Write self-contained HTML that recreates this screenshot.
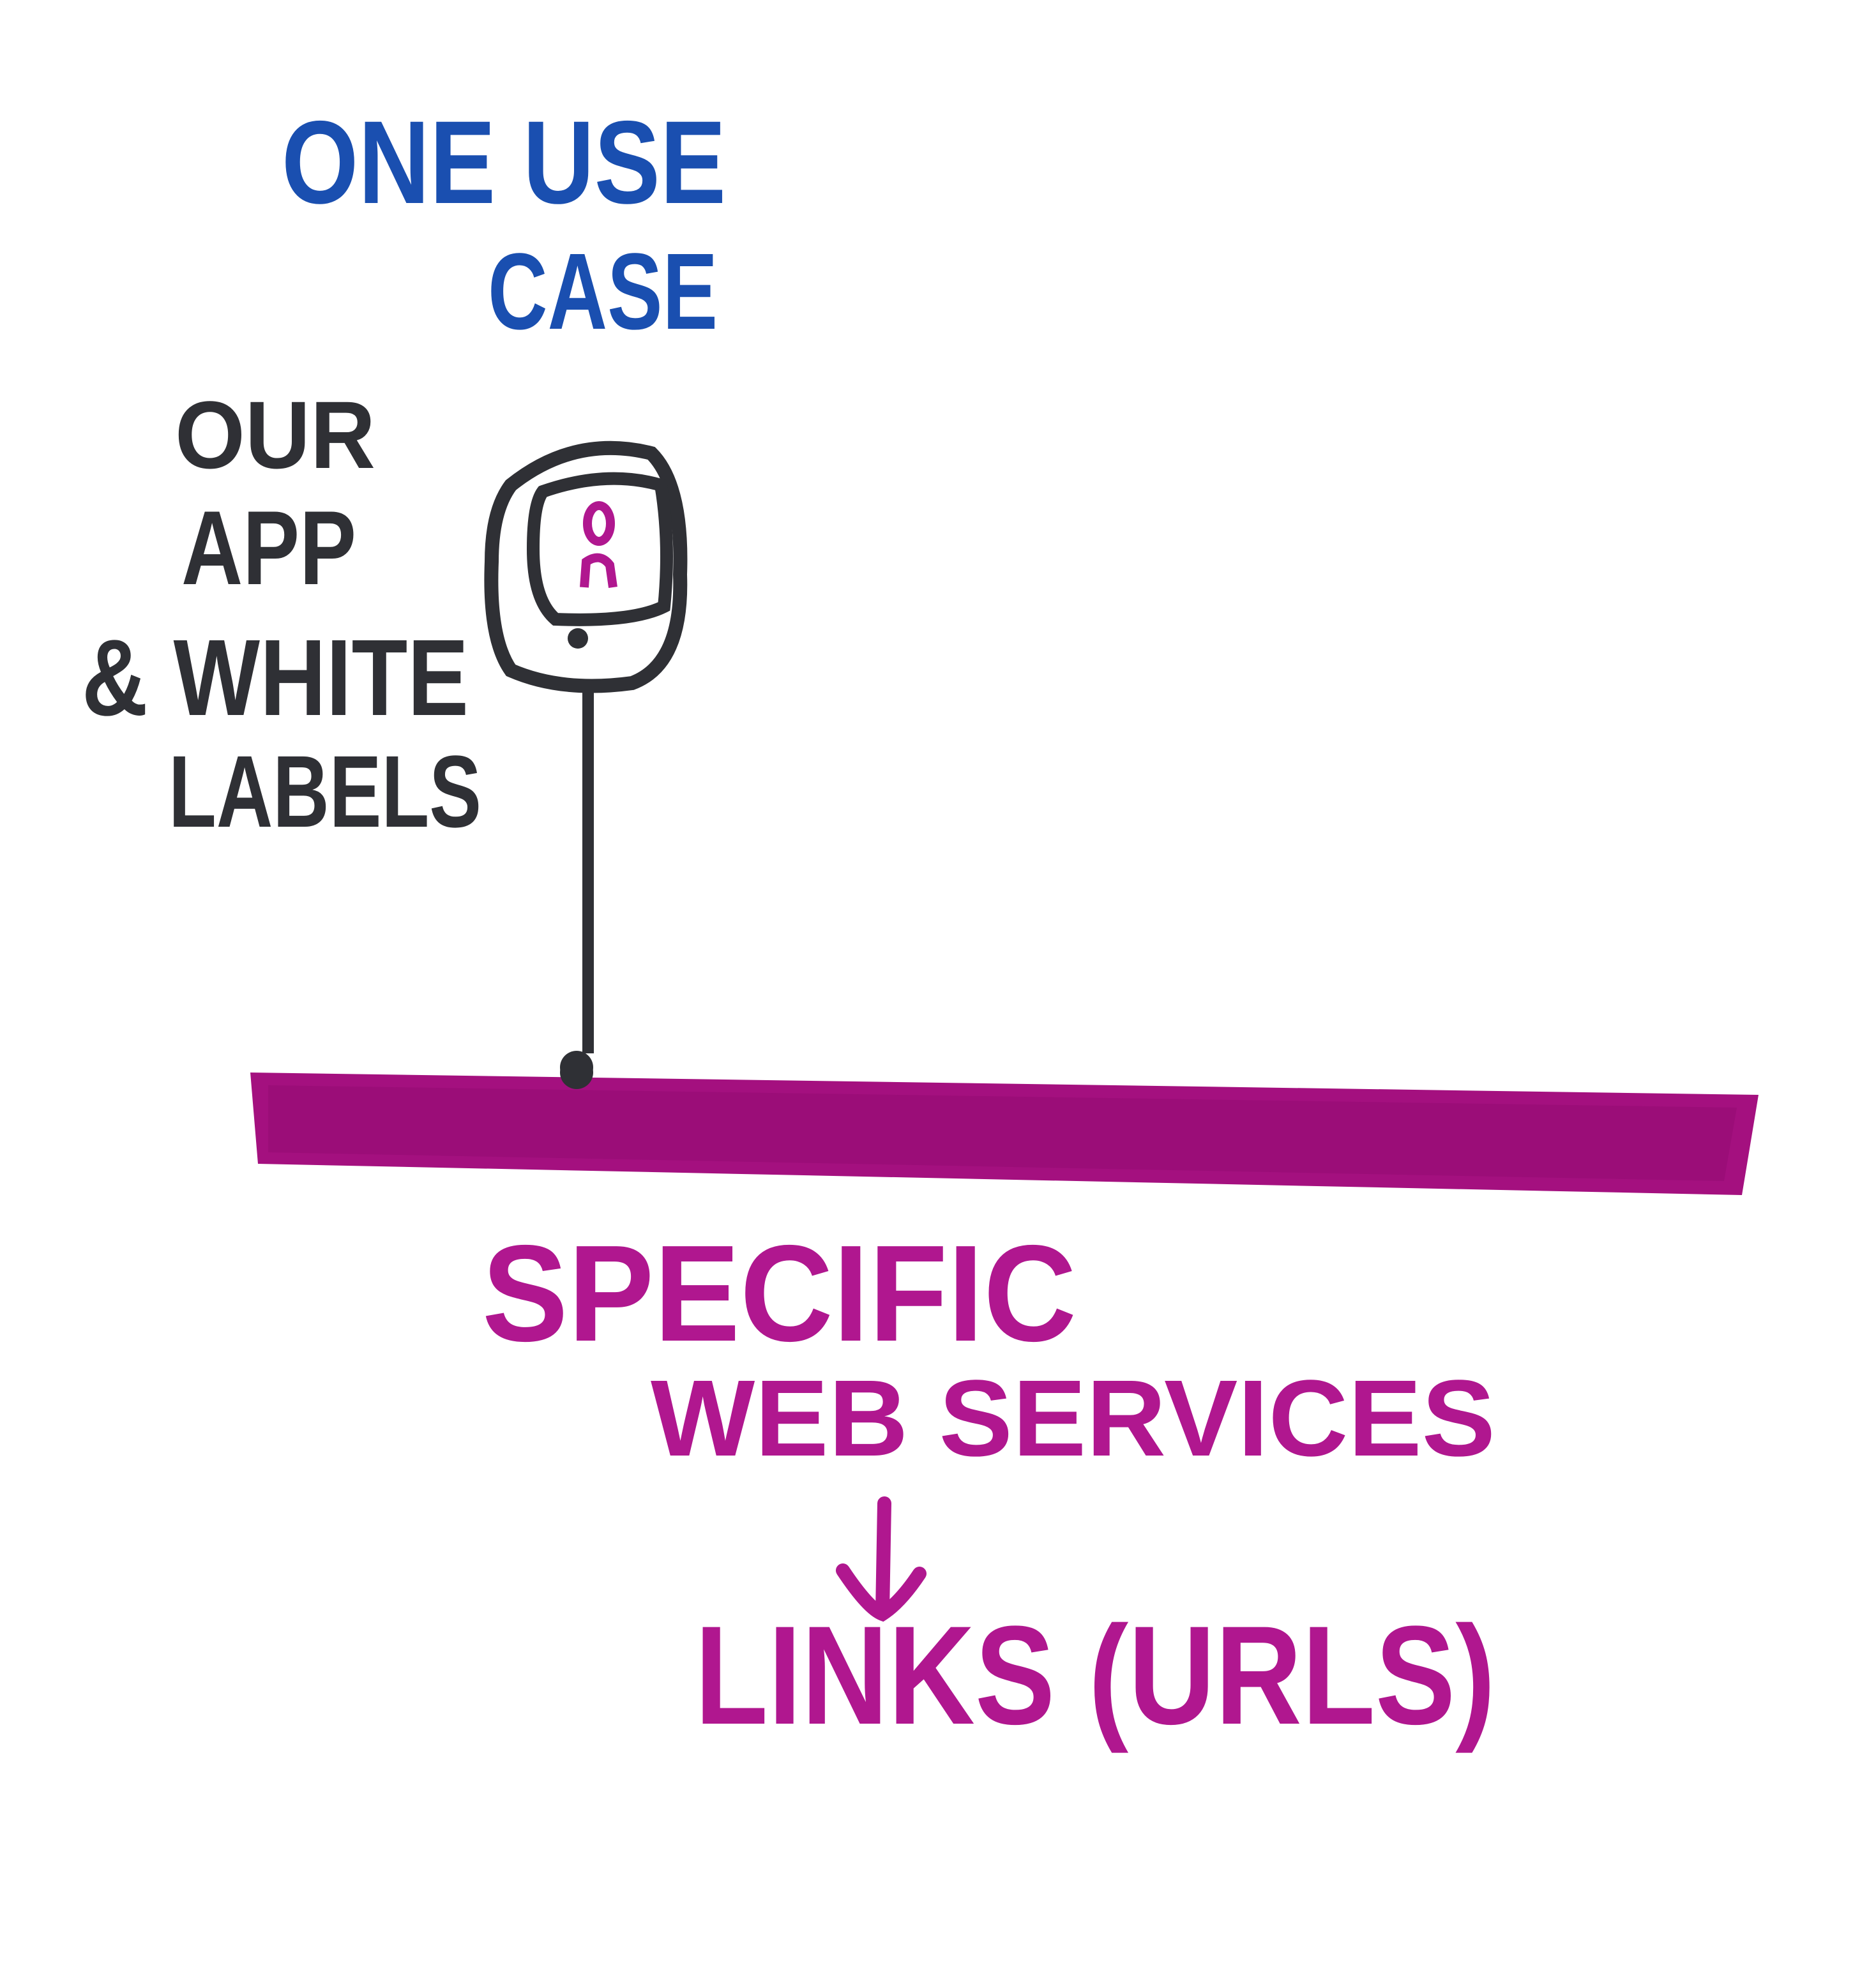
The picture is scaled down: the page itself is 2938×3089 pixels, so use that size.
<!DOCTYPE html>
<html><head><meta charset="utf-8"><style>
html,body{margin:0;padding:0;background:#fff;}
svg{display:block;}
text{font-family:"Liberation Sans",sans-serif;font-weight:bold;}
</style></head><body>
<svg width="2938" height="3089" viewBox="0 0 2938 3089" xmlns="http://www.w3.org/2000/svg">
<rect width="2938" height="3089" fill="#fff"/>
<!-- blue title -->
<text x="441" y="318" font-size="185" fill="#1a4fb0" textLength="696" lengthAdjust="spacingAndGlyphs">ONE USE</text>
<text x="764" y="515" font-size="170" fill="#1a4fb0" textLength="360" lengthAdjust="spacingAndGlyphs">CASE</text>
<!-- black labels -->
<g fill="#2f3035">
<text x="274" y="733" font-size="150" textLength="314" lengthAdjust="spacingAndGlyphs">OUR</text>
<text x="284" y="915" font-size="165" textLength="274" lengthAdjust="spacingAndGlyphs">APP</text>
<text x="128" y="1120" font-size="170" textLength="606" lengthAdjust="spacingAndGlyphs">&amp; WHITE</text>
<text x="264" y="1295" font-size="160" textLength="490" lengthAdjust="spacingAndGlyphs">LABELS</text>
</g>
<!-- phone -->
<path d="M800,760 Q900,680 1020,710 Q1070,760 1065,900 Q1070,1040 990,1070 Q880,1085 800,1050 Q765,1000 770,880 Q770,800 800,760 Z" fill="none" stroke="#2f3035" stroke-width="22"/>
<path d="M850,770 Q950,735 1035,760 Q1050,850 1040,950 Q990,975 870,970 Q835,940 835,860 Q835,790 850,770 Z" fill="none" stroke="#2f3035" stroke-width="20"/>
<ellipse cx="938" cy="820" rx="18" ry="28" fill="none" stroke="#b0178f" stroke-width="14"/>
<path d="M915,920 L918,880 Q940,865 955,885 L960,920" fill="none" stroke="#b0178f" stroke-width="14"/>
<circle cx="905" cy="1000" r="16" fill="#2f3035"/>
<line x1="921" y1="1078" x2="921" y2="1650" stroke="#2f3035" stroke-width="18"/>
<circle cx="903" cy="1672" r="26" fill="#2f3035"/>
<!-- bar -->
<polygon points="392,1680 2754,1715 2728,1872 404,1823" fill="#a4107f"/>
<polygon points="420,1700 2720,1735 2700,1850 420,1805" fill="#920a72" opacity="0.5"/>
<circle cx="903" cy="1680" r="26" fill="#2f3035"/>
<!-- magenta text -->
<g fill="#b0178f">
<text x="755" y="2100" font-size="215" textLength="931" lengthAdjust="spacingAndGlyphs">SPECIFIC</text>
<text x="1019" y="2280" font-size="170" textLength="1323" lengthAdjust="spacingAndGlyphs">WEB SERVICES</text>
<text x="1088" y="2700" font-size="220" textLength="1254" lengthAdjust="spacingAndGlyphs">LINKS (URLS)</text>
</g>
<path d="M1385,2355 L1382,2525 M1320,2460 Q1360,2520 1382,2528 Q1410,2510 1440,2465" fill="none" stroke="#b0178f" stroke-width="22" stroke-linecap="round"/>
</svg>
</body></html>
